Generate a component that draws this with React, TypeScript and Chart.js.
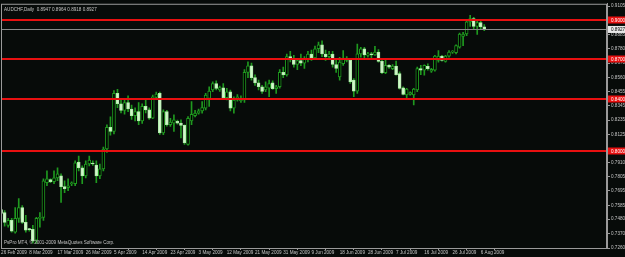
import React, { useEffect, useRef } from "react";
import { Chart, registerables } from "chart.js";

Chart.register(...registerables);

// ---------- data ----------
const symbolTitle = "AUDCHF,Daily  0.8947 0.8964 0.8918 0.8927";
const copyright = "PsPro MT4, \u00a9 2001-2009 MetaQuotes Software Corp.";

const dateTickBars = [0, 8, 16, 24, 32, 40, 48, 56, 64, 72, 80, 88, 96, 104, 112, 120, 128, 136];
const dateTickLabels = [
  "26 Feb 2009", "8 Mar 2009", "17 Mar 2009", "26 Mar 2009", "5 Apr 2009", "14 Apr 2009",
  "23 Apr 2009", "3 May 2009", "12 May 2009", "21 May 2009", "31 May 2009", "9 Jun 2009",
  "18 Jun 2009", "28 Jun 2009", "7 Jul 2009", "16 Jul 2009", "26 Jul 2009", "6 Aug 2009",
];

const priceTicks = [0.9105, 0.8885, 0.878, 0.867, 0.856, 0.8455, 0.8345, 0.8235, 0.8125, 0.791, 0.7805, 0.7695, 0.7585, 0.748, 0.737, 0.726];

const levelLines = [0.9, 0.87, 0.84, 0.8];
const bidPrice = 0.8927;

const opens = [
  0.7554, 0.7531, 0.7433, 0.7471, 0.738, 0.7486, 0.7569, 0.7456, 0.7403, 0.7403,
  0.732, 0.7486, 0.7494, 0.7758, 0.7781, 0.7765, 0.7795, 0.781, 0.7728, 0.772,
  0.775, 0.775, 0.7916, 0.7871, 0.781, 0.7901, 0.7905, 0.7893, 0.781, 0.7863,
  0.8015, 0.818, 0.815, 0.844, 0.836, 0.831, 0.837, 0.832, 0.827, 0.83,
  0.823, 0.834, 0.8314, 0.825, 0.8408, 0.8439, 0.8137, 0.8301, 0.82, 0.8213,
  0.8226, 0.8213, 0.8195, 0.805, 0.823, 0.827, 0.8288, 0.8306, 0.8326, 0.8401,
  0.8465, 0.8515, 0.8465, 0.8482, 0.8407, 0.8452, 0.8326, 0.8389, 0.8382, 0.8389,
  0.86, 0.865, 0.856, 0.852, 0.849, 0.8465, 0.848, 0.852, 0.8475, 0.849,
  0.86, 0.858, 0.872, 0.87, 0.866, 0.869, 0.867, 0.87, 0.874, 0.871,
  0.878, 0.881, 0.874, 0.872, 0.874, 0.866, 0.8565, 0.8666, 0.8691, 0.8691,
  0.854, 0.8457, 0.8741, 0.8779, 0.8729, 0.8735, 0.8733, 0.8754, 0.8683, 0.8598,
  0.8653, 0.8628, 0.8648, 0.859, 0.8482, 0.8427, 0.8431, 0.8427, 0.8465, 0.8628,
  0.8616, 0.8646, 0.8608, 0.8616, 0.8691, 0.8723, 0.8683, 0.8723, 0.8754, 0.8749,
  0.8791, 0.8874, 0.8892, 0.8985, 0.901, 0.895, 0.898, 0.8947,
];
const highs = [
  0.7622, 0.7546, 0.7486, 0.7486, 0.7569, 0.7637, 0.7584, 0.7509, 0.741, 0.7433,
  0.7494, 0.7531, 0.7788, 0.7848, 0.7788, 0.7848, 0.7871, 0.7826, 0.7773, 0.7788,
  0.7765, 0.7924, 0.7961, 0.7886, 0.7924, 0.7961, 0.7924, 0.7924, 0.7901, 0.803,
  0.82, 0.826, 0.846, 0.847, 0.84, 0.839, 0.842, 0.835, 0.833, 0.837,
  0.836, 0.84, 0.833, 0.8427, 0.845, 0.845, 0.8314, 0.831, 0.825, 0.8276,
  0.8235, 0.8238, 0.82, 0.8263, 0.8376, 0.831, 0.832, 0.8376, 0.8439, 0.849,
  0.8527, 0.8535, 0.8495, 0.8515, 0.8477, 0.8465, 0.8414, 0.843, 0.842, 0.862,
  0.868, 0.867, 0.858, 0.854, 0.85, 0.8527, 0.854, 0.8535, 0.85, 0.862,
  0.864, 0.874, 0.876, 0.873, 0.87, 0.874, 0.872, 0.876, 0.877, 0.88,
  0.883, 0.884, 0.877, 0.876, 0.876, 0.87, 0.8715, 0.8766, 0.872, 0.8703,
  0.8552, 0.8816, 0.8791, 0.8791, 0.8753, 0.8753, 0.8799, 0.8774, 0.8691, 0.8691,
  0.866, 0.866, 0.8686, 0.8603, 0.849, 0.8477, 0.8452, 0.8477, 0.864, 0.8653,
  0.8658, 0.8665, 0.863, 0.8729, 0.8766, 0.873, 0.8729, 0.8766, 0.8765, 0.8809,
  0.89, 0.8905, 0.9, 0.9035, 0.902, 0.9, 0.8995, 0.8964,
];
const lows = [
  0.7516, 0.7426, 0.7418, 0.738, 0.7373, 0.7456, 0.7448, 0.738, 0.7388, 0.7297,
  0.7297, 0.7418, 0.7471, 0.7735, 0.7758, 0.775, 0.7773, 0.7607, 0.7682, 0.7697,
  0.7735, 0.7735, 0.7848, 0.775, 0.7795, 0.7886, 0.789, 0.7758, 0.7788, 0.7848,
  0.799, 0.812, 0.813, 0.833, 0.829, 0.828, 0.83, 0.824, 0.823, 0.82,
  0.821, 0.829, 0.824, 0.8246, 0.84, 0.8127, 0.8125, 0.819, 0.8188, 0.815,
  0.8205, 0.8099, 0.805, 0.8044, 0.82, 0.826, 0.828, 0.8288, 0.8314, 0.8339,
  0.8452, 0.8465, 0.8455, 0.8401, 0.8389, 0.8306, 0.8288, 0.838, 0.837, 0.8371,
  0.856, 0.854, 0.85, 0.8465, 0.844, 0.8452, 0.8414, 0.847, 0.844, 0.848,
  0.856, 0.857, 0.868, 0.864, 0.862, 0.865, 0.863, 0.868, 0.869, 0.87,
  0.875, 0.872, 0.869, 0.87, 0.864, 0.86, 0.854, 0.8653, 0.868, 0.8515,
  0.8414, 0.8439, 0.8716, 0.8703, 0.8716, 0.8706, 0.8729, 0.8678, 0.859, 0.859,
  0.863, 0.862, 0.8578, 0.8472, 0.8427, 0.8407, 0.8425, 0.8352, 0.8452, 0.8582,
  0.8578, 0.8616, 0.86, 0.8608, 0.8678, 0.8685, 0.8678, 0.8716, 0.8745, 0.8741,
  0.8785, 0.8804, 0.888, 0.895, 0.893, 0.889, 0.893, 0.8918,
];
const closes = [
  0.7524, 0.7456, 0.7471, 0.7388, 0.7486, 0.7569, 0.7456, 0.7396, 0.74, 0.7313,
  0.7486, 0.7494, 0.7773, 0.7788, 0.7766, 0.7795, 0.7826, 0.7728, 0.7712, 0.7735,
  0.7758, 0.7909, 0.7871, 0.781, 0.7901, 0.7931, 0.7901, 0.781, 0.7863, 0.8015,
  0.818, 0.815, 0.844, 0.836, 0.831, 0.837, 0.832, 0.827, 0.83, 0.823,
  0.834, 0.8314, 0.825, 0.8414, 0.8434, 0.8137, 0.8301, 0.82, 0.822, 0.8238,
  0.8213, 0.8195, 0.8062, 0.825, 0.828, 0.829, 0.8306, 0.8331, 0.8427, 0.8457,
  0.8515, 0.8477, 0.8484, 0.8407, 0.8452, 0.8326, 0.8389, 0.8414, 0.8401, 0.86,
  0.865, 0.856, 0.852, 0.849, 0.8455, 0.849, 0.8515, 0.8475, 0.849, 0.86,
  0.858, 0.872, 0.87, 0.866, 0.869, 0.867, 0.87, 0.874, 0.871, 0.878,
  0.881, 0.874, 0.872, 0.874, 0.866, 0.863, 0.8678, 0.8708, 0.8708, 0.8527,
  0.8457, 0.8741, 0.8779, 0.8733, 0.8741, 0.8733, 0.8754, 0.8683, 0.8598, 0.8653,
  0.864, 0.8648, 0.8582, 0.8477, 0.8431, 0.8472, 0.8446, 0.8472, 0.8628, 0.8616,
  0.8653, 0.8628, 0.8623, 0.8723, 0.8723, 0.8691, 0.8723, 0.8754, 0.8756, 0.8804,
  0.8892, 0.8892, 0.8985, 0.901, 0.895, 0.898, 0.8947, 0.8927,
];

// ---------- styles ----------
const BG = "#070b09";
const FG = "#c4c4c4";
const AXIS = "#9a9a9a";
const WICK = "#1f9a1f";
const BULL_FILL = "#000000";
const BEAR_FILL = "#d2f6cb";
const LEVEL = "#e81010";
const FONT = "Liberation Sans";
const FSIZE = 4.6;

export default function App() {
  const ref = useRef<HTMLCanvasElement | null>(null);

  useEffect(() => {
    document.body.style.margin = "0";
    document.body.style.background = BG;
    const canvas = ref.current;
    if (!canvas) return;

    const bull = closes.map((c, i) => c >= opens[i]);

    const overlay = {
      id: "mtOverlay",
      beforeDraw(chart: any) {
        const ctx = chart.ctx;
        ctx.save();
        ctx.fillStyle = BG;
        ctx.fillRect(0, 0, chart.width, chart.height);
        ctx.restore();
      },
      afterDatasetsDraw(chart: any) {
        const ctx = chart.ctx;
        const a = chart.chartArea;
        const ys = chart.scales.y;
        ctx.save();
        // bid line
        const by = Math.round(ys.getPixelForValue(bidPrice)) + 0.5;
        ctx.strokeStyle = "#8a8a8a";
        ctx.lineWidth = 1;
        ctx.beginPath();
        ctx.moveTo(a.left, by);
        ctx.lineTo(a.right, by);
        ctx.stroke();
        // level lines
        ctx.strokeStyle = LEVEL;
        ctx.lineWidth = 2;
        levelLines.forEach((lv) => {
          const y = Math.round(ys.getPixelForValue(lv));
          ctx.beginPath();
          ctx.moveTo(a.left, y);
          ctx.lineTo(a.right, y);
          ctx.stroke();
        });
        // border
        ctx.strokeStyle = AXIS;
        ctx.lineWidth = 1;
        ctx.strokeRect(a.left + 0.5, a.top + 0.5, a.right - a.left - 1, a.bottom - a.top);
        ctx.restore();
      },
      afterDraw(chart: any) {
        const ctx = chart.ctx;
        const a = chart.chartArea;
        const ys = chart.scales.y;
        ctx.save();
        ctx.font = `${FSIZE}px "${FONT}"`;
        ctx.textBaseline = "middle";
        ctx.textAlign = "left";
        // level labels on the axis
        levelLines.forEach((lv) => {
          const y = Math.round(ys.getPixelForValue(lv));
          ctx.fillStyle = LEVEL;
          ctx.fillRect(a.right + 1, y - 3.5, chart.width - a.right - 1, 7);
          ctx.fillStyle = "#ffffff";
          ctx.fillText(lv.toFixed(4), a.right + 4, y + 0.3);
        });
        // bid label
        const by = ys.getPixelForValue(bidPrice);
        ctx.fillStyle = "#e8e8e8";
        ctx.fillRect(a.right + 1, by - 3.5, chart.width - a.right - 1, 7);
        ctx.fillStyle = "#000000";
        ctx.fillText(bidPrice.toFixed(4), a.right + 4, by + 0.3);
        // texts
        ctx.fillStyle = FG;
        ctx.fillText(symbolTitle, a.left + 3, a.top + 6);
        ctx.fillText(copyright, a.left + 3, a.bottom - 5);
        ctx.restore();
      },
    };

    const chart = new Chart(canvas, {
      type: "bar",
      data: {
        datasets: [
          {
            label: "body",
            order: 0,
            data: opens.map((o, i) => ({ x: i, y: [o, closes[i]] })),
            backgroundColor: bull.map((b) => (b ? BULL_FILL : BEAR_FILL)),
            borderColor: bull.map((b) => (b ? WICK : "#b0ecaa")),
            borderWidth: 1,
            borderSkipped: false,
            barThickness: 3,
            minBarLength: 1,
            grouped: false,
          } as any,
          {
            label: "wick",
            order: 1,
            data: lows.map((l, i) => ({ x: i, y: [l, highs[i]] })),
            backgroundColor: WICK,
            borderWidth: 0,
            barThickness: 1,
            grouped: false,
          } as any,
        ],
      },
      options: {
        responsive: false,
        animation: false,
        devicePixelRatio: 1,
        layout: { padding: { left: 1, top: 1, right: 0, bottom: 0 } },
        plugins: { legend: { display: false }, tooltip: { enabled: false }, title: { display: false } },
        scales: {
          x: {
            type: "linear",
            min: -0.03,
            max: 171.8,
            position: "bottom",
            offset: false,
            grid: { display: true, drawOnChartArea: false, drawTicks: true, tickLength: 2, color: AXIS },
            border: { display: true, color: AXIS },
            ticks: {
              autoSkip: false,
              maxRotation: 0,
              minRotation: 0,
              align: "start",
              padding: 0,
              color: FG,
              font: { family: FONT, size: FSIZE },
              callback: (_v: any, idx: number) => dateTickLabels[idx],
            },
            afterBuildTicks: (scale: any) => {
              scale.ticks = dateTickBars.map((v) => ({ value: v }));
            },
            afterFit: (scale: any) => {
              scale.height = 9;
            },
          },
          y: {
            type: "linear",
            position: "right",
            min: 0.726,
            max: 0.9123,
            grid: { display: true, drawOnChartArea: false, drawTicks: true, tickLength: 3, color: AXIS },
            border: { display: true, color: AXIS },
            ticks: {
              autoSkip: false,
              padding: 1,
              color: FG,
              font: { family: FONT, size: FSIZE },
              callback: (v: any) => Number(v).toFixed(4),
            },
            afterBuildTicks: (scale: any) => {
              scale.ticks = priceTicks.map((v) => ({ value: v }));
            },
            afterFit: (scale: any) => {
              scale.width = 18;
            },
          },
        },
      } as any,
      plugins: [overlay],
    });

    return () => chart.destroy();
  }, []);

  return (
    <div style={{ width: 625, height: 257 }}>
      <canvas ref={ref} width={625} height={257} style={{ display: "block", width: 625, height: 257 }} />
    </div>
  );
}
